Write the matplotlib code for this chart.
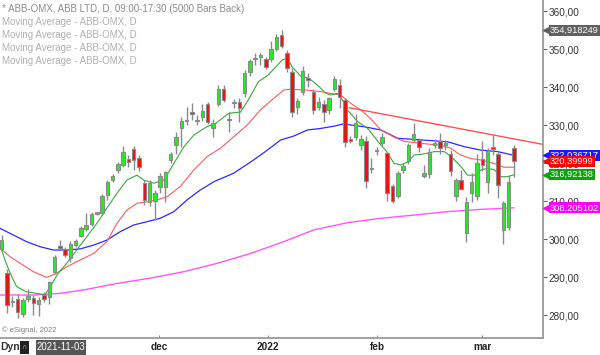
import matplotlib
matplotlib.use('Agg')
import matplotlib.pyplot as plt
import matplotlib.transforms as mtransforms
from matplotlib.patches import Rectangle

plt.rcParams['font.family'] = ['Liberation Sans', 'DejaVu Sans']

# ---------------- data ----------------
opens = [297.4, 291.1, 283.3, 284.2, 280.3, 284.1, 284.5, 282.9, 285.3, 284.8,
         291.4, 298.2, 297.4, 295.0, 298.4, 300.9, 302.6, 303.9, 306.7, 306.9,
         311.6, 315.5, 318.2, 319.5, 321.0, 323.7, 321.4, 314.8, 309.8, 310.1,
         313.6, 313.8, 320.8, 324.7, 329.3, 331.1, 333.3, 331.1, 332.0, 335.5,
         329.1, 335.4, 339.5, 331.2, 335.7, 336.0, 338.3, 343.9, 347.3, 348.0,
         347.5, 347.4, 350.0, 353.7, 348.9, 344.0, 334.7, 338.8, 342.5, 338.8,
         334.8, 335.5, 333.9, 339.4, 340.5, 336.6, 326.3, 326.9, 324.7, 325.8,
         318.5, 323.1, 325.2, 322.7, 313.9, 311.3, 318.2, 320.4, 326.1, 326.1,
         316.7, 317.1, 324.7, 325.9, 324.8, 322.3, 311.3, 315.5, 301.5, 312.0,
         311.3, 321.0, 315.1, 324.2, 322.4, 302.4, 303.2, 323.9]
highs = [301.0, 292.0, 285.0, 285.5, 284.5, 286.8, 285.2, 284.8, 286.0, 289.0,
         295.8, 299.7, 298.0, 299.5, 300.0, 303.3, 306.8, 307.0, 307.2, 311.8,
         315.5, 317.0, 320.3, 324.5, 322.1, 324.5, 322.0, 315.5, 315.5, 313.0,
         317.5, 318.0, 323.0, 328.2, 332.2, 334.8, 335.8, 332.6, 335.5, 336.0,
         331.5, 340.5, 340.5, 333.5, 336.8, 337.0, 344.5, 347.5, 348.9, 349.0,
         348.0, 352.0, 354.0, 354.9, 349.8, 345.0, 337.0, 345.6, 343.7, 339.5,
         337.5, 336.5, 337.5, 343.0, 342.0, 337.0, 327.0, 333.0, 327.5, 327.0,
         321.2, 324.3, 328.0, 323.0, 314.5, 318.0, 320.0, 325.3, 330.4, 326.7,
         319.5, 324.0, 326.2, 328.0, 326.0, 323.5, 316.0, 318.2, 311.0, 317.3,
         322.4, 325.9, 324.0, 327.5, 323.0, 310.0, 316.8, 324.7]
lows = [297.0, 280.5, 282.0, 279.2, 279.5, 283.5, 280.0, 279.7, 283.5, 282.9,
        290.8, 297.0, 295.3, 294.0, 298.0, 300.5, 302.2, 303.5, 306.4, 306.5,
        310.3, 315.0, 317.5, 319.0, 319.0, 318.2, 318.0, 309.0, 308.6, 305.0,
        312.0, 309.8, 320.0, 322.5, 324.3, 330.0, 331.3, 330.0, 331.0, 330.2,
        326.9, 335.0, 336.0, 328.2, 334.5, 330.9, 337.5, 343.0, 345.8, 345.8,
        344.8, 346.5, 349.5, 350.3, 344.0, 332.0, 333.0, 338.0, 340.0, 333.0,
        334.0, 330.8, 333.0, 339.0, 334.5, 324.3, 325.3, 326.0, 323.5, 313.3,
        317.3, 322.1, 324.5, 310.0, 309.4, 310.8, 317.5, 319.8, 325.5, 323.0,
        316.0, 316.0, 324.0, 322.5, 323.5, 316.5, 310.0, 312.8, 299.3, 309.8,
        310.3, 318.0, 312.0, 322.0, 310.7, 298.7, 302.5, 316.4]
closes = [299.7, 282.6, 283.6, 280.8, 283.9, 285.1, 283.2, 283.9, 284.2, 288.7,
          295.3, 297.7, 295.8, 298.7, 299.6, 302.9, 303.7, 306.6, 306.9, 311.4,
          315.0, 316.6, 319.7, 323.0, 320.3, 320.8, 319.0, 310.3, 314.8, 312.2,
          316.6, 317.7, 322.3, 326.8, 331.0, 331.3, 332.8, 331.3, 333.7, 330.7,
          330.4, 339.5, 336.7, 331.4, 336.0, 334.4, 343.8, 346.9, 347.7, 348.3,
          345.3, 350.0, 353.2, 350.9, 344.9, 333.3, 336.4, 344.2, 341.8, 334.0,
          336.0, 333.3, 337.0, 342.0, 337.3, 325.4, 325.7, 330.4, 326.3, 315.3,
          318.7, 323.3, 326.8, 312.0, 310.1, 317.4, 319.2, 324.7, 327.6, 324.3,
          317.5, 323.0, 325.3, 323.9, 325.3, 318.0, 315.5, 313.2, 309.8, 315.1,
          320.1, 319.5, 323.2, 323.8, 314.3, 309.5, 315.1, 320.4]

ma_green_idx = [-0.3, 0.6, 1.6, 2.8, 4.7, 6.6, 8.2, 9.2, 10.7, 12.3, 14.2, 16.1, 18.0,
                19.9, 21.8, 23.7, 25.6, 26.9, 28.8, 30.7, 32.6, 34.5, 36.4, 38.9, 40.5,
                43.0, 45.2, 46.7, 48.6, 50.5, 53.1, 54.1, 55.0, 56.6, 58.2, 60.1, 61.3,
                62.3, 63.6, 64.5, 65.5, 67.4, 69.3, 71.8, 72.7, 74.3, 75.6, 76.9, 78.1,
                80.0, 81.9, 83.8, 85.1, 87.0, 88.2, 89.5, 90.8, 92.0, 93.3, 94.6, 95.8, 97.0]
ma_green_val = [298.4, 294.5, 291.0, 287.5, 286.1, 285.7, 285.3, 287.5, 291.0, 293.6, 297.1,
                300.6, 304.1, 308.1, 312.0, 315.5, 316.8, 315.5, 314.7, 315.5, 319.9, 324.3,
                327.4, 329.6, 330.4, 333.1, 333.4, 336.6, 341.4, 343.2, 347.1, 347.6, 345.3,
                342.9, 342.3, 340.1, 338.4, 337.9, 338.3, 336.6, 333.9, 330.9, 329.1, 324.7,
                323.4, 319.9, 319.5, 320.3, 322.1, 322.4, 323.0, 323.0, 321.7, 319.0, 316.8,
                316.8, 318.2, 318.6, 318.2, 316.4, 316.4, 316.92]

ma_red_idx = [-0.3, 1.6, 3.5, 6.0, 8.5, 10.4, 12.3, 14.9, 17.4, 19.9, 21.8, 23.7, 25.6,
              27.5, 29.4, 31.3, 33.8, 36.4, 38.9, 41.4, 43.9, 46.5, 49.0, 51.5, 53.4,
              54.7, 57.6, 60.4, 62.3, 64.2, 66.1, 68.0, 69.9, 71.8, 74.3, 76.2, 78.1,
              80.6, 83.1, 85.0, 86.9, 88.8, 90.7, 93.2, 95.1, 97.0]
ma_red_val = [297.6, 295.3, 293.6, 291.4, 289.9, 291.0, 292.7, 294.5, 296.2, 299.3, 304.1,
              307.6, 309.4, 309.8, 310.3, 311.1, 313.8, 318.2, 321.7, 323.9, 326.9, 330.0,
              334.0, 337.0, 339.2, 339.4, 339.2, 338.8, 338.3, 337.9, 335.7, 334.0, 331.6,
              328.7, 326.8, 325.7, 325.4, 325.0, 324.7, 323.9, 322.1, 321.2, 320.8, 319.9,
              318.9, 318.9]

ma_blue_idx = [-0.3, 2.2, 4.7, 7.3, 9.8, 12.3, 14.9, 17.4, 19.9, 22.4, 25.0, 27.5, 30.0,
               32.6, 35.1, 37.6, 40.2, 43.9, 47.7, 50.3, 52.8, 55.3, 57.9, 60.4, 62.9,
               64.8, 66.1, 68.6, 71.8, 75.0, 78.1, 81.3, 84.4, 87.6, 90.7, 93.9, 97.0]
ma_blue_val = [302.8, 301.05, 299.3, 297.95, 297.1, 297.1, 297.4, 298.4, 299.7, 301.9,
               303.7, 304.55, 305.45, 307.2, 310.3, 312.9, 315.1, 317.3, 320.8, 323.4,
               326.05, 327.1, 328.7, 329.1, 329.7, 330.3, 330.0, 329.55, 328.7, 326.5,
               326.2, 325.9, 325.6, 324.3, 323.4, 323.0, 322.036717]

ma_mag_idx = [-0.3, 6.0, 11.1, 15.5, 21.8, 28.1, 34.5, 40.8, 47.1, 53.4, 59.1, 65.5,
              71.8, 78.1, 84.4, 90.7, 97.0]
ma_mag_val = [285.26, 285.26, 285.7, 286.6, 288.3, 289.7, 291.4, 293.6, 296.2, 299.3,
              302.4, 304.3, 305.45, 306.3, 307.2, 307.8, 308.205102]

trend_idx = [65.8, 102.5]
trend_val = [334.55, 324.9]

y_ticks = [280, 290, 300, 310, 320, 330, 340, 350, 360]
x_tick_pos = [29.8, 50.4, 71.1, 91.0]
x_tick_labels = ['dec', '2022', 'feb', 'mar']

value_labels = [  # (value, text, colour)
    (354.918249, '354,918249', '#606060'),
    (322.036717, '322,036717', '#1a1aff'),
    (320.39999, '320,39999', '#ff0000'),
    (316.92138, '316,92138', '#10a010'),
    (308.205102, '308,205102', '#ff00ff'),
]

header = '* ABB-OMX, ABB LTD, D, 09:00-17:30 (5000 Bars Back)'
study_lines = ['Moving Average - ABB-OMX, D'] * 4

# ---------------- figure ----------------
W, H = 600, 355
fig = plt.figure(figsize=(W / 100, H / 100), dpi=100)
fig.patch.set_facecolor('white')
ax = fig.add_axes([0, 17 / H, 543 / W, 338 / H])
ax.set_facecolor('white')

n = len(closes)
idx = list(range(n))

# moving averages and trend line
ax.plot(ma_mag_idx, ma_mag_val, color='#ff55ff', lw=1.0, zorder=2)
ax.plot(ma_blue_idx, ma_blue_val, color='#2a2aff', lw=0.9, zorder=2)
ax.plot(ma_red_idx, ma_red_val, color='#ff5a5a', lw=0.8, zorder=2)
ax.plot(ma_green_idx, ma_green_val, color='#3aa83a', lw=0.8, zorder=2)
ax.plot(trend_idx, trend_val, color='#ff5050', lw=1.0, zorder=2)

# candles
ax.vlines(idx, lows, highs, color='#8a8a8a', lw=1.0, zorder=3)
bottoms = [min(o, c) for o, c in zip(opens, closes)]
heights = [max(abs(c - o), 0.3) for o, c in zip(opens, closes)]
cols = ['#22ee22' if c >= o else '#ee1111' for o, c in zip(opens, closes)]
ax.bar(idx, heights, bottom=bottoms, width=0.66, color=cols,
       edgecolor='#8a8a8a', linewidth=0.8, zorder=4)

ax.set_xlim(-0.33, 102.5)
ax.set_ylim(273.95, 362.9)

for s in ['left', 'top']:
    ax.spines[s].set_visible(False)
for s in ['right', 'bottom']:
    ax.spines[s].set_color('#9a9a9a')
    ax.spines[s].set_linewidth(1.3)

ax.yaxis.tick_right()
ax.set_yticks(y_ticks)
ax.set_yticklabels([f'{v:.2f}'.replace('.', ',') for v in y_ticks])
ax.tick_params(axis='y', direction='out', length=3, width=0.8, color='#666666',
               labelsize=7.2, labelcolor='#333333', pad=1)
ax.set_xticks(x_tick_pos)
ax.set_xticklabels(x_tick_labels, fontweight='bold')
ax.tick_params(axis='x', direction='in', length=2, width=0.8, color='#888888',
               labelsize=7.2, labelcolor='#222222', pad=3)

# value labels on the right
tr = mtransforms.blended_transform_factory(ax.transAxes, ax.transData)
for v, txt, c in value_labels:
    ax.plot([1.0 + 4 / 543], [v], marker='<', ms=5.5, color=c, mec=c,
            transform=tr, clip_on=False, zorder=5)
    ax.text(1.0 + 7 / 543, v, txt, transform=tr, ha='left', va='center',
            fontsize=6.7, color='white', clip_on=False, zorder=5,
            bbox=dict(boxstyle='square,pad=0.1', fc=c, ec='none'))

# header texts
fig.text(2 / W, 1 - 9 / H, header, fontsize=7, color='#8c8c8c', va='center', ha='left')
for k, t in enumerate(study_lines):
    fig.text(2 / W, 1 - (22 + 13 * k) / H, t, fontsize=7, color='#b0b0b0',
             va='center', ha='left')

fig.text(2 / W, 1 - 330 / H, '\u00a9 eSignal, 2022', fontsize=5.5, color='#808080',
         va='center', ha='left')

# bottom strip
fig.text(0 / W, 1 - 347.5 / H, 'Dyn', fontsize=7.5, fontweight='bold', color='#333333',
         va='center', ha='left')
fig.patches.append(Rectangle((20 / W, 1 - 354 / H), 9 / W, 13 / H,
                             transform=fig.transFigure, fc='#222222', ec='none'))
fig.text(24.5 / W, 1 - 347.5 / H, '\u2229', fontsize=5, color='#cccccc',
         va='center', ha='center')
fig.patches.append(Rectangle((36 / W, 1 - 355 / H), 50 / W, 15 / H,
                             transform=fig.transFigure, fc='#555555', ec='none'))
fig.text(61 / W, 1 - 347.5 / H, '2021-11-03', fontsize=7, color='white',
         va='center', ha='center')

fig.savefig('out.png', dpi=100, facecolor='white')
